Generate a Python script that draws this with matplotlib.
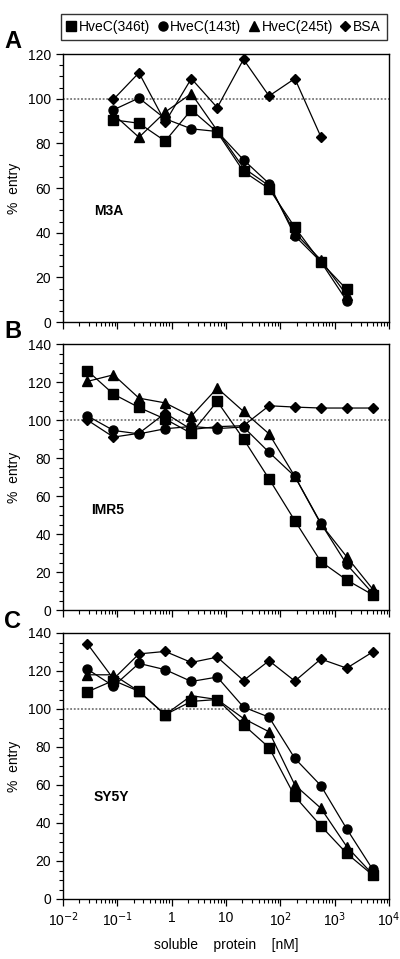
import matplotlib
matplotlib.use("Agg")
import matplotlib.pyplot as plt
from matplotlib.ticker import FixedLocator, FuncFormatter, NullFormatter, LogLocator, MultipleLocator

plt.rcParams['font.family'] = ['Liberation Sans', 'DejaVu Sans']

# concentrations (nM), 3-fold dilution series
conc = [0.028, 0.085, 0.25, 0.76, 2.3, 6.9, 21, 62, 185, 556, 1667, 5000]
series_names = ["HveC(346t)", "HveC(143t)", "HveC(245t)", "BSA"]
markers = ["s", "o", "^", "D"]

# panel A (M3A): points start at 0.085
a_346 = [90.5, 89, 81, 95, 85, 67.4, 59.7, 42.4, 26.8, 14.6]
a_143 = [95, 100.3, 91, 86.5, 85.3, 72.6, 62, 38.6, 27, 9.5]
a_245 = [93, 82.7, 94, 102.3, 85.7, 69, 61, 40, 27.8, 12]
a_bsa = [99.7, 111.6, 89.5, 109, 96, 117.6, 101.2, 109, 83]

# panel B (IMR5)
b_346 = [126, 113.6, 106.6, 100.5, 93, 109.8, 90, 69, 47, 25.5, 15.8, 8]
b_143 = [102.2, 94.5, 92.7, 95.4, 96.6, 95.5, 96.3, 83, 70.3, 45.7, 24, 8.8]
b_245 = [120.3, 123.8, 111.5, 109, 102, 116.8, 104.5, 92.7, 70.3, 45.3, 28, 11]
b_bsa = [100, 91, 93, 103.6, 95, 96.5, 97, 107.5, 106.8, 106.3, 106.3, 106.3]

# panel C (SY5Y)
c_346 = [109, 115, 109.3, 97, 104, 105, 91.7, 79.7, 54, 38.5, 24, 12.6]
c_143 = [121, 112, 124, 120.7, 114.5, 116.8, 101, 95.7, 74, 59.7, 36.9, 15.6]
c_245 = [118, 118, 109.3, 97, 107, 105, 95, 88, 60, 47.8, 27.6, 13]
c_bsa = [134.4, 115.8, 129, 130.3, 124.5, 127.3, 115, 125.4, 114.7, 126.3, 121.5, 130]

fig = plt.figure(figsize=(4.0, 9.59), dpi=100)
H = 959.0
MS = {"s": 6.5, "o": 6.5, "^": 6.5, "D": 4.8}


def make_axes(top, bottom):
    return fig.add_axes([63 / 400, (H - bottom) / H, (389 - 63) / 400, (bottom - top) / H])


def style_axes(ax, ymax, show_xlabels):
    ax.set_xscale("log")
    ax.set_xlim(1e-2, 1e4)
    ax.set_ylim(0, ymax)
    ax.axhline(100, color="#777777", lw=1.3, ls=(0, (1, 1)), zorder=1)
    ax.yaxis.set_major_locator(MultipleLocator(20))
    ax.yaxis.set_minor_locator(MultipleLocator(5))
    ax.xaxis.set_major_locator(FixedLocator([1e-2, 1e-1, 1, 10, 1e2, 1e3, 1e4]))
    ax.xaxis.set_minor_locator(LogLocator(base=10, subs=range(2, 10), numticks=20))
    ax.xaxis.set_minor_formatter(NullFormatter())
    labels = {1e-2: r"10$^{-2}$", 1e-1: r"10$^{-1}$", 1: "1", 10: "10",
              1e2: r"10$^{2}$", 1e3: r"10$^{3}$", 1e4: r"10$^{4}$"}
    if show_xlabels:
        ax.xaxis.set_major_formatter(FuncFormatter(
            lambda v, p: labels.get(min(labels, key=lambda k: abs(k - v) / k), "")))
    else:
        ax.xaxis.set_major_formatter(NullFormatter())
    ax.tick_params(which="major", length=5, width=0.9, labelsize=10, direction="out")
    ax.tick_params(which="minor", length=3, width=0.8, direction="out")
    ax.tick_params(top=False, right=False)
    for s in ax.spines.values():
        s.set_linewidth(1.0)
    ax.set_ylabel("%  entry", fontsize=10, labelpad=5)


def plot_series(ax, xs, ys, m):
    return ax.plot(xs, ys, color="black", lw=0.9, marker=m, markersize=MS[m],
                   markerfacecolor="black", markeredgecolor="black", zorder=3)


axA = make_axes(54, 322)
axB = make_axes(344, 610)
axC = make_axes(633, 899)

style_axes(axA, 120, False)
style_axes(axB, 140, False)
style_axes(axC, 140, True)

for ys, m in zip([a_346, a_143, a_245], markers[:3]):
    plot_series(axA, conc[1:1 + len(ys)], ys, m)
plot_series(axA, conc[1:1 + len(a_bsa)], a_bsa, "D")

for ys, m in zip([b_346, b_143, b_245, b_bsa], markers):
    plot_series(axB, conc, ys, m)
for ys, m in zip([c_346, c_143, c_245, c_bsa], markers):
    plot_series(axC, conc, ys, m)

axA.text(0.095, 0.40, "M3A", transform=axA.transAxes, fontsize=10, fontweight="bold")
axB.text(0.085, 0.36, "IMR5", transform=axB.transAxes, fontsize=10, fontweight="bold")
axC.text(0.095, 0.37, "SY5Y", transform=axC.transAxes, fontsize=10, fontweight="bold")

axC.set_xlabel("soluble    protein    [nM]", fontsize=10, labelpad=6)

for lbl, y in [("A", 48), ("B", 338), ("C", 628)]:
    fig.text(4 / 400, 1 - y / H, lbl, fontsize=17, fontweight="bold", va="baseline")

handles = [plt.Line2D([], [], ls="none", marker=m, color="black", markersize=MS[m])
           for m in markers]
leg = fig.legend(handles, series_names, loc="center", ncol=4,
                 bbox_to_anchor=(224 / 400, 1 - 27 / H), fontsize=10,
                 frameon=True, fancybox=False, handlelength=0.6, handletextpad=0.25,
                 columnspacing=0.6, borderpad=0.45, borderaxespad=0)
leg.get_frame().set_edgecolor("black")
leg.get_frame().set_linewidth(1.0)

fig.savefig("out.png", dpi=100)
